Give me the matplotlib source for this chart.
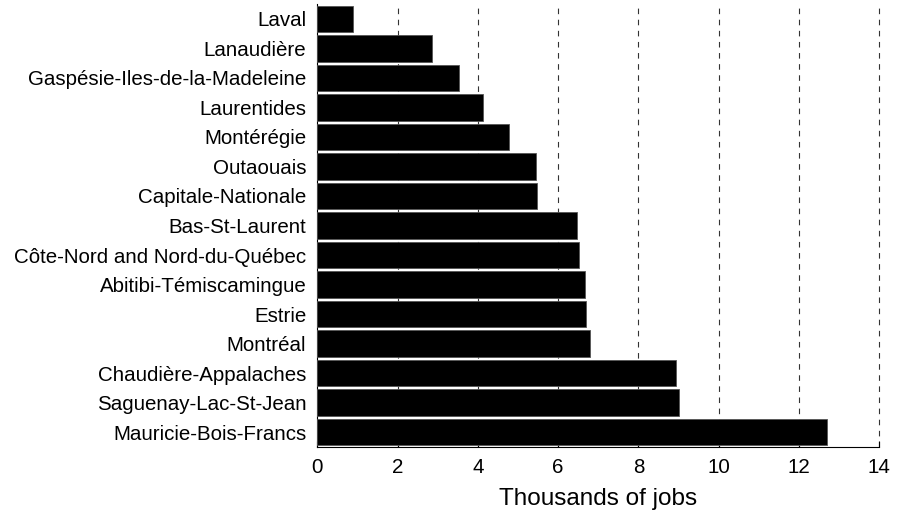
import matplotlib.pyplot as plt

plt.rcParams["font.family"] = ["Liberation Sans", "DejaVu Sans"]

regions = [
    "Laval",
    "Lanaudière",
    "Gaspésie-Iles-de-la-Madeleine",
    "Laurentides",
    "Montérégie",
    "Outaouais",
    "Capitale-Nationale",
    "Bas-St-Laurent",
    "Côte-Nord and Nord-du-Québec",
    "Abitibi-Témiscamingue",
    "Estrie",
    "Montréal",
    "Chaudière-Appalaches",
    "Saguenay-Lac-St-Jean",
    "Mauricie-Bois-Francs",
]
jobs = [0.88, 2.86, 3.54, 4.12, 4.78, 5.45, 5.47, 6.47, 6.53, 6.68, 6.70, 6.80, 8.94, 9.02, 12.71]
xticks = [0, 2, 4, 6, 8, 10, 12, 14]

fig = plt.figure(figsize=(8.99, 5.16), dpi=100)
ax = fig.add_axes([0.353, 0.134, 0.625, 0.858])

pos = list(range(len(regions)))
ax.barh(pos, jobs, height=0.9, color="black", edgecolor="#555555", linewidth=0.6, zorder=3)
ax.set_yticks(pos)
ax.set_yticklabels(regions, fontsize=14.8)
ax.set_ylim(len(regions) - 0.5, -0.5)

ax.set_xlim(0, 14)
ax.set_xticks(xticks)
ax.set_xticklabels([str(t) for t in xticks], fontsize=14.8)
ax.set_xlabel("Thousands of jobs", fontsize=17.5, labelpad=8)

for t in xticks[1:]:
    ax.axvline(t, color="#333333", linestyle=(0, (5, 5)), linewidth=0.8, zorder=1, clip_on=False)

ax.spines["top"].set_visible(False)
ax.spines["right"].set_visible(False)
ax.tick_params(axis="x", direction="in", length=4, pad=8)
ax.tick_params(axis="y", direction="in", length=0, pad=8)

fig.savefig("out.png", dpi=100)
